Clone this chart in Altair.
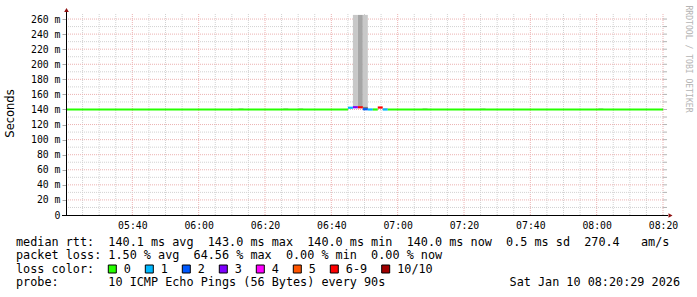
import altair as alt
import pandas as pd

# ---------------- data ----------------
# median RTT, drawn as steps coloured by packet loss
seg_start = ["05:20:00", "06:45:00", "06:46:30", "06:48:00", "06:49:30",
             "06:51:00", "06:52:30", "06:54:00", "06:55:30", "06:57:00"]
seg_end = ["06:45:00", "06:46:30", "06:48:00", "06:49:30", "06:51:00",
           "06:52:30", "06:54:00", "06:55:30", "06:57:00", "08:20:00"]
seg_rtt = [140.0, 142.3, 143.0, 142.9, 140.3, 140.0, 140.0, 142.6, 140.0, 140.0]
seg_loss = ["0", "1", "3", "6-9", "2", "1", "0", "6-9", "1", "0"]

# smoke (spread of the individual pings)
smoke_start = ["06:12:00", "06:25:30", "06:30:00", "07:07:30", "07:25:00",
               "08:00:30", "06:46:30", "06:48:00", "06:49:30", "06:49:30", "06:55:30"]
smoke_end = ["06:13:30", "06:27:00", "06:31:30", "07:09:00", "07:26:30",
             "08:02:00", "06:48:00", "06:49:30", "06:51:00", "06:51:00", "06:57:00"]
smoke_lo = [140.0, 140.0, 140.0, 140.0, 140.0, 140.0, 143.0, 142.9, 140.3, 140.3, 140.0]
smoke_hi = [141.8, 141.8, 141.8, 141.8, 141.6, 141.8, 265.5, 265.5, 265.5, 143.4, 141.8]
smoke_shade = ["light", "light", "light", "light", "light", "light",
               "light", "dark", "light", "darker", "light"]

# loss legend
loss_labels = ["0", "1", "2", "3", "4", "5", "6-9", "10/10"]
loss_colors = ["#26ff00", "#00b8ff", "#0059ff", "#7e00ff",
               "#ff00ff", "#ff5500", "#ff0000", "#a10000"]

# axis ticks
x_label_times = ["05:40", "06:00", "06:20", "06:40", "07:00", "07:20", "07:40", "08:00", "08:20"]
y_label_values = [0, 20, 40, 60, 80, 100, 120, 140, 160, 180, 200, 220, 240, 260]

# text
legend_lines = [
    "median rtt:  140.1 ms avg  143.0 ms max  140.0 ms min  140.0 ms now  0.5 ms sd  270.4   am/s",
    "packet loss: 1.50 % avg  64.56 % max  0.00 % min  0.00 % now",
    "loss color:",
    "probe:       10 ICMP Echo Pings (56 Bytes) every 90s",
]
stamp = "Sat Jan 10 08:20:29 2026"
y_title = "Seconds"
watermark = "RRDTOOL / TOBI OETIKER"

# ---------------- layout / style ----------------
W, H = 597, 201
PAD = {"left": 66, "top": 14, "right": 34, "bottom": 82}
X_DOMAIN = ["05:20", "08:20"]
Y_MAX = 266.7
MONO = "DejaVu Sans Mono"
FS = 11.8
SHADES = {"light": "#c8c8c8", "dark": "#a6a6a6", "darker": "#7a7a7a"}
LOSS_COLOR = dict(zip(loss_labels, loss_colors))
NB = "\u00a0"
MINOR_GRID = "#d2d2d2"
MAJOR_GRID = "#ecb2b2"


def to_min(s):
    parts = [int(p) for p in s.split(":")]
    while len(parts) < 3:
        parts.append(0)
    return parts[0] * 60 + parts[1] + parts[2] / 60.0


x0, x1 = to_min(X_DOMAIN[0]), to_min(X_DOMAIN[1])
xscale = alt.Scale(domain=[x0, x1], nice=False, zero=False)
yscale = alt.Scale(domain=[0, Y_MAX], nice=False, zero=False)

xaxis = alt.Axis(
    values=[to_min(t) for t in x_label_times],
    labelExpr="format(floor(datum.value/60),'02d') + ':' + format(datum.value%60,'02d')",
    title=None, grid=False, domain=False, ticks=False,
    labelFont=MONO, labelFontSize=9.8, labelColor="#000000", labelPadding=5,
    labelFlush=False, labelOverlap=False, labelBound=False,
)
yaxis = alt.Axis(
    values=y_label_values,
    labelExpr="datum.value == 0 ? '0' : datum.value + ' m'",
    title=None, grid=False, domain=False, ticks=True, tickSize=4,
    tickColor="#a8a8a8", labelPadding=2,
    labelFont=MONO, labelFontSize=9.8, labelColor="#000000",
    labelOverlap=False, labelBound=False,
)

# grid positions
minor_x = [m for m in range(int(x0) + 5, int(x1) + 1, 5) if m % 20 != 0]
major_x = [m for m in range(int(x0) + 5, int(x1) + 1, 5) if m % 20 == 0]
minor_y = [v for v in range(10, int(Y_MAX) + 1, 10) if v % 20 != 0]
major_y = [v for v in range(20, int(Y_MAX) + 1, 10) if v % 20 == 0]

vgrid_minor = alt.Chart(pd.DataFrame({"m": minor_x})).mark_rule(
    color=MINOR_GRID, strokeDash=[1, 1], strokeWidth=1
).encode(x=alt.X("m:Q", scale=xscale, axis=xaxis))
vgrid_major = alt.Chart(pd.DataFrame({"m": major_x})).mark_rule(
    color=MAJOR_GRID, strokeDash=[1, 1], strokeWidth=1
).encode(x=alt.X("m:Q", scale=xscale, axis=xaxis))
hgrid_minor = alt.Chart(pd.DataFrame({"v": minor_y})).mark_rule(
    color=MINOR_GRID, strokeDash=[1, 1], strokeWidth=1
).encode(y=alt.Y("v:Q", scale=yscale, axis=yaxis))
hgrid_major = alt.Chart(pd.DataFrame({"v": major_y})).mark_rule(
    color=MAJOR_GRID, strokeDash=[1, 1], strokeWidth=1
).encode(y=alt.Y("v:Q", scale=yscale, axis=yaxis))
right_ticks = alt.Chart(pd.DataFrame({"v": sorted(minor_y + major_y)})).mark_rule(
    color="#b4b4b4", strokeWidth=1
).encode(x=alt.value(W), x2=alt.value(W + 4), y=alt.Y("v:Q", scale=yscale, axis=yaxis))

smoke_df = pd.DataFrame({
    "s": [to_min(t) for t in smoke_start],
    "e": [to_min(t) for t in smoke_end],
    "lo": smoke_lo, "hi": smoke_hi,
    "c": [SHADES[s] for s in smoke_shade],
})
smoke = alt.Chart(smoke_df).mark_rect().encode(
    x=alt.X("s:Q", scale=xscale, axis=xaxis), x2="e:Q",
    y=alt.Y("lo:Q", scale=yscale, axis=yaxis), y2="hi:Q",
    color=alt.Color("c:N", scale=None),
)

seg_df = pd.DataFrame({
    "s": [to_min(t) for t in seg_start],
    "e": [to_min(t) for t in seg_end],
    "rtt": seg_rtt,
    "c": [LOSS_COLOR[l] for l in seg_loss],
})
median = alt.Chart(seg_df).mark_rule(strokeWidth=2.2).encode(
    x=alt.X("s:Q", scale=xscale, axis=xaxis), x2="e:Q",
    y=alt.Y("rtt:Q", scale=yscale, axis=yaxis),
    color=alt.Color("c:N", scale=None),
)

one = pd.DataFrame({"k": [0]})
y_axis_line = alt.Chart(one).mark_rule(color="#000000", strokeWidth=1).encode(
    x=alt.value(0.5), y=alt.value(-3), y2=alt.value(H + 0.5))
x_axis_line = alt.Chart(one).mark_rule(color="#000000", strokeWidth=1).encode(
    x=alt.value(-4), x2=alt.value(W + 5), y=alt.value(H + 0.5))
arrow_up = alt.Chart(one).mark_point(shape="triangle-up", filled=True, size=22,
                                     color="#8e1010", opacity=1).encode(
    x=alt.value(0.5), y=alt.value(-4))
arrow_right = alt.Chart(one).mark_point(shape="triangle-right", filled=True, size=22,
                                        color="#8e1010", opacity=1).encode(
    x=alt.value(W + 7.5), y=alt.value(H + 0.5))

txt_df = pd.DataFrame({
    "t": [l.replace(" ", NB) for l in legend_lines],
    "py": [227.8 + i * 13.5 for i in range(len(legend_lines))],
})
legend_text = alt.Chart(txt_df).mark_text(
    font=MONO, fontSize=FS, align="left", baseline="middle", color="#000000"
).encode(x=alt.value(-50), y=alt.Y("py:Q", scale=None), text="t:N")

stamp_text = alt.Chart(pd.DataFrame({"t": [stamp.replace(" ", NB)]})).mark_text(
    font=MONO, fontSize=FS, align="right", baseline="middle", color="#000000"
).encode(x=alt.value(614), y=alt.value(227.8 + 3 * 13.5), text="t:N")

# loss colour boxes
box_left = []
pos = 42.3
for i, lab in enumerate(loss_labels):
    box_left.append(pos)
    pos += 37 if lab != "6-9" else 51.4
box_df = pd.DataFrame({
    "x1": box_left,
    "x2": [b + 8 for b in box_left],
    "lx": [b + 15.5 for b in box_left],
    "lab": loss_labels,
    "c": loss_colors,
})
boxes = alt.Chart(box_df).mark_rect(stroke="#000000", strokeWidth=1).encode(
    x=alt.X("x1:Q", scale=None), x2="x2:Q",
    y=alt.value(251), y2=alt.value(259),
    color=alt.Color("c:N", scale=None),
)
box_labels = alt.Chart(box_df).mark_text(
    font=MONO, fontSize=FS, align="left", baseline="middle", color="#000000"
).encode(x=alt.X("lx:Q", scale=None), y=alt.value(227.8 + 2 * 13.5), text="lab:N")

title_text = alt.Chart(pd.DataFrame({"t": [y_title]})).mark_text(
    font="DejaVu Sans", fontSize=11.5, angle=270, align="center", baseline="middle",
    color="#000000"
).encode(x=alt.value(-55), y=alt.value(99.5), text="t:N")

wm_text = alt.Chart(pd.DataFrame({"t": [watermark.replace(" ", NB)]})).mark_text(
    font=MONO, fontSize=8.1, angle=90, align="center", baseline="middle",
    color="#b4b4b4"
).encode(x=alt.value(622), y=alt.value(45), text="t:N")

chart = alt.layer(
    vgrid_minor, vgrid_major, hgrid_minor, hgrid_major, right_ticks,
    smoke, median,
    y_axis_line, x_axis_line, arrow_up, arrow_right,
    legend_text, stamp_text, boxes, box_labels, title_text, wm_text,
).properties(
    width=W, height=H,
    autosize=alt.AutoSizeParams(type="none"),
    padding=PAD,
    background="#ffffff",
).configure_view(stroke=None)

chart.save("out.html", embed_options={"renderer": "svg", "actions": False})
